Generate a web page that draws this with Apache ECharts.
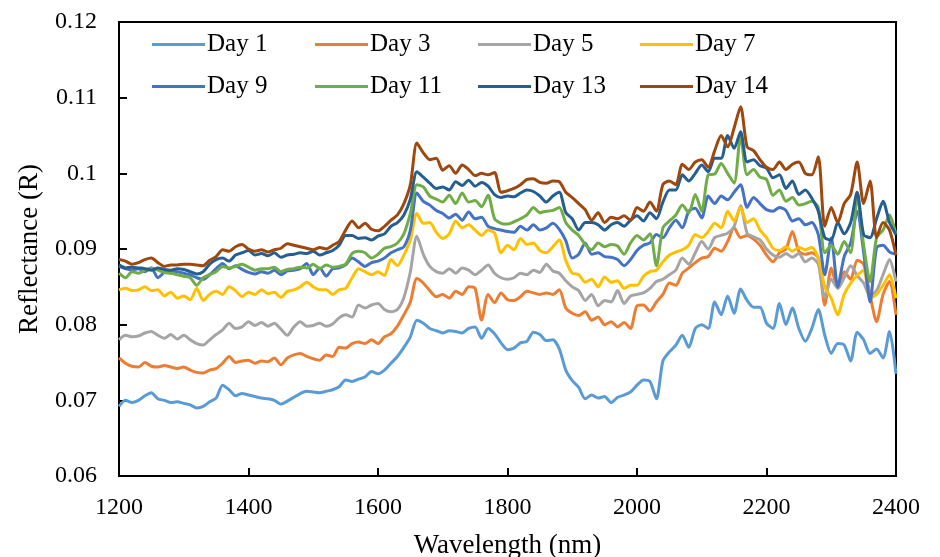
<!DOCTYPE html>
<html>
<head>
<meta charset="utf-8">
<script src="https://cdn.jsdelivr.net/npm/echarts@6/dist/echarts.min.js"></script>
<style>
html,body{margin:0;padding:0;background:#fff;}
#chart{width:940px;height:557px;}
</style>
</head>
<body>
<div id="chart"></div>
<script>
// Wavelength sampling grid (nm): 1200 to 2400 every 10 nm
const wlStart = 1200, wlStep = 10;
const seriesNames = ['Day 1','Day 3','Day 5','Day 7','Day 9','Day 11','Day 13','Day 14'];
const yTickLabels = ['0.06','0.07','0.08','0.09','0.1','0.11','0.12'];
const xTickLabels = ['1200','1400','1600','1800','2000','2200','2400'];

const day1 = [0.0692,0.0700,0.0697,0.0700,0.0706,0.0710,0.0702,0.0700,0.0697,0.0698,
0.0696,0.0694,0.0690,0.0692,0.0698,0.0703,0.0720,0.0714,0.0706,0.0709,
0.0707,0.0705,0.0703,0.0702,0.0700,0.0695,0.0699,0.0704,0.0709,0.0712,
0.0711,0.0710,0.0712,0.0714,0.0718,0.0727,0.0725,0.0728,0.0731,0.0738,
0.0735,0.0740,0.0749,0.0758,0.0770,0.0784,0.0806,0.0802,0.0795,0.0792,
0.0789,0.0792,0.0791,0.0789,0.0795,0.0797,0.0782,0.0795,0.0788,0.0776,
0.0767,0.0769,0.0776,0.0778,0.0790,0.0787,0.0779,0.0780,0.0768,0.0740,
0.0726,0.0717,0.0702,0.0707,0.0703,0.0705,0.0697,0.0704,0.0707,0.0711,
0.0720,0.0727,0.0725,0.0702,0.0752,0.0764,0.0773,0.0786,0.0770,0.0795,
0.0800,0.0795,0.0830,0.0813,0.0838,0.0815,0.0847,0.0832,0.0823,0.0823,
0.0802,0.0795,0.0828,0.0800,0.0822,0.0795,0.0778,0.0795,0.0820,0.0786,
0.0762,0.0775,0.0773,0.0752,0.0790,0.0780,0.0762,0.0768,0.0756,0.0791,
0.0735];

const day3 = [0.0756,0.0749,0.0745,0.0744,0.0750,0.0745,0.0744,0.0746,0.0744,0.0742,
0.0744,0.0740,0.0737,0.0736,0.0740,0.0742,0.0749,0.0758,0.0750,0.0752,
0.0753,0.0749,0.0752,0.0751,0.0756,0.0747,0.0756,0.0760,0.0762,0.0758,
0.0755,0.0753,0.0760,0.0758,0.0770,0.0769,0.0775,0.0777,0.0775,0.0780,
0.0775,0.0784,0.0788,0.0798,0.0813,0.0830,0.0861,0.0855,0.0845,0.0837,
0.0840,0.0835,0.0844,0.0840,0.0850,0.0848,0.0806,0.0840,0.0829,0.0842,
0.0833,0.0832,0.0837,0.0844,0.0842,0.0840,0.0842,0.0840,0.0846,0.0822,
0.0815,0.0812,0.0817,0.0806,0.0810,0.0800,0.0804,0.0797,0.0803,0.0795,
0.0825,0.0826,0.0818,0.0830,0.0840,0.0855,0.0852,0.0868,0.0875,0.0882,
0.0888,0.0890,0.0901,0.0897,0.0910,0.0928,0.0915,0.0918,0.0913,0.0905,
0.0892,0.0883,0.0895,0.0900,0.0923,0.0897,0.0893,0.0895,0.0888,0.0826,
0.0875,0.0848,0.0870,0.0860,0.0885,0.0880,0.0839,0.0804,0.0840,0.0857,
0.0813];

const day5 = [0.0780,0.0786,0.0784,0.0785,0.0789,0.0791,0.0786,0.0782,0.0787,0.0781,
0.0786,0.0780,0.0775,0.0773,0.0780,0.0787,0.0793,0.0802,0.0795,0.0797,
0.0804,0.0799,0.0803,0.0798,0.0802,0.0794,0.0786,0.0797,0.0804,0.0798,
0.0799,0.0802,0.0798,0.0801,0.0809,0.0813,0.0810,0.0826,0.0822,0.0826,
0.0828,0.0820,0.0817,0.0820,0.0836,0.0870,0.0917,0.0893,0.0877,0.0870,
0.0868,0.0874,0.0868,0.0875,0.0872,0.0866,0.0872,0.0879,0.0868,0.0862,
0.0860,0.0862,0.0868,0.0866,0.0872,0.0869,0.0880,0.0871,0.0868,0.0858,
0.0850,0.0845,0.0832,0.0840,0.0825,0.0832,0.0830,0.0845,0.0828,0.0838,
0.0840,0.0842,0.0848,0.0857,0.0860,0.0866,0.0872,0.0888,0.0880,0.0895,
0.0910,0.0900,0.0915,0.0918,0.0921,0.0930,0.0957,0.0921,0.0916,0.0912,
0.0900,0.0892,0.0889,0.0894,0.0889,0.0894,0.0883,0.0888,0.0880,0.0836,
0.0860,0.0848,0.0862,0.0878,0.0865,0.0855,0.0838,0.0845,0.0866,0.0886,
0.0857];

const day7 = [0.0846,0.0848,0.0845,0.0846,0.0850,0.0845,0.0846,0.0838,0.0843,0.0835,
0.0838,0.0833,0.0848,0.0832,0.0840,0.0844,0.0840,0.0850,0.0845,0.0837,
0.0843,0.0840,0.0846,0.0841,0.0843,0.0836,0.0844,0.0846,0.0850,0.0856,
0.0850,0.0846,0.0846,0.0840,0.0846,0.0848,0.0862,0.0874,0.0870,0.0866,
0.0870,0.0865,0.0886,0.0878,0.0892,0.0912,0.0947,0.0934,0.0935,0.0922,
0.0914,0.0920,0.0937,0.0928,0.0932,0.0925,0.0918,0.0925,0.0921,0.0895,
0.0905,0.0899,0.0914,0.0906,0.0908,0.0898,0.0895,0.0903,0.0912,0.0885,
0.0868,0.0866,0.0856,0.0860,0.0850,0.0863,0.0856,0.0858,0.0848,0.0852,
0.0852,0.0864,0.0870,0.0872,0.0883,0.0892,0.0896,0.0899,0.0905,0.0919,
0.0915,0.0923,0.0934,0.0928,0.0950,0.0937,0.0955,0.0935,0.0940,0.0925,
0.0915,0.0901,0.0898,0.0903,0.0897,0.0902,0.0899,0.0902,0.0888,0.0850,
0.0835,0.0813,0.0840,0.0855,0.0865,0.0872,0.0835,0.0840,0.0852,0.0866,
0.0835];

const day9 = [0.0877,0.0874,0.0872,0.0874,0.0870,0.0875,0.0862,0.0869,0.0871,0.0870,
0.0868,0.0866,0.0862,0.0860,0.0866,0.0874,0.0881,0.0874,0.0878,0.0873,
0.0869,0.0867,0.0870,0.0868,0.0872,0.0866,0.0871,0.0872,0.0874,0.0881,
0.0866,0.0875,0.0864,0.0874,0.0875,0.0879,0.0888,0.0883,0.0877,0.0882,
0.0884,0.0888,0.0895,0.0899,0.0903,0.0925,0.0974,0.0963,0.0958,0.0951,
0.0947,0.0941,0.0946,0.0938,0.0949,0.0940,0.0942,0.0930,0.0927,0.0925,
0.0923,0.0922,0.0930,0.0925,0.0932,0.0925,0.0928,0.0934,0.0926,0.0911,
0.0888,0.0893,0.0908,0.0893,0.0895,0.0890,0.0889,0.0886,0.0878,0.0886,
0.0898,0.0905,0.0908,0.0919,0.0915,0.0928,0.0938,0.0928,0.0950,0.0954,
0.0941,0.0970,0.0960,0.0970,0.0965,0.0975,0.0985,0.0955,0.0968,0.0960,
0.0952,0.0950,0.0955,0.0951,0.0937,0.0940,0.0932,0.0935,0.0919,0.0866,
0.0915,0.0850,0.0890,0.0908,0.0950,0.0896,0.0830,0.0902,0.0905,0.0896,
0.0893];

const day11 = [0.0868,0.0862,0.0870,0.0868,0.0872,0.0875,0.0872,0.0869,0.0868,0.0866,
0.0864,0.0862,0.0852,0.0862,0.0866,0.0870,0.0877,0.0875,0.0877,0.0880,
0.0876,0.0872,0.0874,0.0874,0.0876,0.0870,0.0873,0.0874,0.0876,0.0875,
0.0880,0.0874,0.0879,0.0876,0.0877,0.0880,0.0894,0.0897,0.0895,0.0888,
0.0893,0.0901,0.0903,0.0908,0.0920,0.0947,0.0985,0.0982,0.0970,0.0966,
0.0962,0.0971,0.0960,0.0974,0.0962,0.0964,0.0956,0.0971,0.0940,0.0934,
0.0933,0.0936,0.0940,0.0945,0.0955,0.0948,0.0950,0.0951,0.0955,0.0935,
0.0925,0.0918,0.0906,0.0899,0.0908,0.0903,0.0906,0.0904,0.0893,0.0908,
0.0918,0.0912,0.0920,0.0878,0.0928,0.0937,0.0945,0.0958,0.0948,0.0972,
0.0950,0.0998,0.0999,0.1013,0.1000,0.0987,0.1050,0.0998,0.1005,0.0995,
0.0992,0.0971,0.0978,0.0963,0.0968,0.0958,0.0960,0.0963,0.0955,0.0895,
0.0905,0.0893,0.0910,0.0895,0.0970,0.0905,0.0857,0.0915,0.0925,0.0945,
0.0919];

const day13 = [0.0879,0.0875,0.0876,0.0875,0.0874,0.0872,0.0875,0.0873,0.0872,0.0874,
0.0873,0.0870,0.0867,0.0870,0.0880,0.0886,0.0888,0.0884,0.0892,0.0895,
0.0898,0.0892,0.0894,0.0891,0.0895,0.0889,0.0892,0.0893,0.0895,0.0894,
0.0897,0.0892,0.0895,0.0898,0.0905,0.0918,0.0918,0.0914,0.0915,0.0912,
0.0917,0.0920,0.0930,0.0935,0.0945,0.0966,0.1002,0.0995,0.0987,0.0980,
0.0982,0.0978,0.0989,0.0984,0.0991,0.0983,0.0988,0.0983,0.0972,0.0968,
0.0970,0.0969,0.0974,0.0978,0.0976,0.0970,0.0962,0.0970,0.0975,0.0948,
0.0940,0.0925,0.0935,0.0935,0.0932,0.0925,0.0932,0.0935,0.0930,0.0938,
0.0944,0.0937,0.0948,0.0940,0.0962,0.0978,0.0978,0.0998,0.0990,0.1000,
0.1011,0.1002,0.1020,0.1020,0.1050,0.1033,0.1055,0.1015,0.1018,0.1010,
0.1007,0.0994,0.0998,0.0980,0.0990,0.0972,0.0978,0.0967,0.0950,0.0915,
0.0912,0.0935,0.0920,0.0935,0.0975,0.0919,0.0915,0.0940,0.0963,0.0935,
0.0919];

const day14 = [0.0886,0.0884,0.0880,0.0882,0.0886,0.0888,0.0882,0.0877,0.0879,0.0879,
0.0880,0.0880,0.0879,0.0878,0.0885,0.0890,0.0899,0.0897,0.0903,0.0906,
0.0900,0.0897,0.0899,0.0896,0.0899,0.0901,0.0907,0.0905,0.0903,0.0901,
0.0899,0.0902,0.0900,0.0905,0.0910,0.0925,0.0937,0.0928,0.0934,0.0926,
0.0924,0.0930,0.0938,0.0945,0.0960,0.0985,0.1040,0.1027,0.1018,0.1020,
0.1004,0.1010,0.1000,0.1011,0.1005,0.0997,0.1000,0.0998,0.1001,0.0975,
0.0977,0.0980,0.0985,0.0992,0.0993,0.0988,0.0987,0.0990,0.0989,0.0975,
0.0968,0.0960,0.0952,0.0938,0.0948,0.0935,0.0942,0.0940,0.0944,0.0938,
0.0955,0.0950,0.0962,0.0950,0.0985,0.0990,0.0985,0.1012,0.1005,0.1015,
0.1018,0.1008,0.1030,0.1050,0.1035,0.1060,0.1088,0.1035,0.1030,0.1018,
0.1008,0.1005,0.1015,0.1005,0.1012,0.1015,0.1000,0.0998,0.1022,0.0930,
0.0955,0.0935,0.0960,0.0972,0.1015,0.0960,0.0990,0.0915,0.0935,0.0925,
0.0892];

const seriesData = [day1, day3, day5, day7, day9, day11, day13, day14];
const colors = ['#5B9BD5','#ED7D31','#A5A5A5','#FFC000','#4472C4','#70AD47','#255E91','#9E480E'];
const FONT = '"Times New Roman","Liberation Serif",serif';

const chart = echarts.init(document.getElementById('chart'), null, {renderer:'canvas'});

const series = seriesNames.map((name, i) => ({
  name: name,
  type: 'line',
  data: seriesData[i].map((v, k) => [wlStart + k * wlStep, v]),
  symbol: 'none',
  smooth: 0.25,
  lineStyle: { width: 3, color: colors[i], join: 'round' },
  itemStyle: { color: colors[i] },
  emphasis: { disabled: true },
  animation: false
}));

const legendCols = [[0,4],[1,5],[2,6],[3,7]];
const legendLeft = [152, 315, 478, 640];
const legends = legendCols.map((idx, c) => ({
  orient: 'vertical',
  left: legendLeft[c],
  top: 32,
  icon: 'rect',
  itemWidth: 53,
  itemHeight: 3,
  itemGap: 17,
  padding: 0,
  data: idx.map(j => seriesNames[j]),
  textStyle: { fontFamily: FONT, fontSize: 25, color: '#000', padding: [0,0,0,-3] }
}));

chart.setOption({
  backgroundColor: '#fff',
  animation: false,
  color: colors,
  legend: legends,
  grid: { left: 119, right: 44, top: 22, bottom: 81, show: true, borderColor: '#000', borderWidth: 2,
          containLabel: false, outerBoundsMode: 'none' },
  xAxis: {
    type: 'value', min: 1200, max: 2400, interval: 200,
    name: 'Wavelength (nm)', nameLocation: 'middle', nameGap: 56,
    nameTextStyle: { fontFamily: FONT, fontSize: 27, color: '#000' },
    axisLine: { lineStyle: { color: '#000', width: 2 } },
    axisTick: { inside: true, length: 8, lineStyle: { color: '#000', width: 2 } },
    axisLabel: { fontFamily: FONT, fontSize: 24, color: '#000', margin: 20,
      formatter: (v) => { const i = xTickLabels.indexOf(String(v)); return i >= 0 ? xTickLabels[i] : ''; } },
    splitLine: { show: false }
  },
  yAxis: {
    type: 'value', min: 0.06, max: 0.12, interval: 0.01,
    name: 'Reflectance (R)', nameLocation: 'middle', nameGap: 76, nameRotate: 90,
    nameTextStyle: { fontFamily: FONT, fontSize: 27, color: '#000' },
    axisLine: { lineStyle: { color: '#000', width: 2 } },
    axisTick: { inside: true, length: 8, lineStyle: { color: '#000', width: 2 } },
    axisLabel: { fontFamily: FONT, fontSize: 24, color: '#000', margin: 22,
      formatter: (v) => { const i = Math.round((v - 0.06) / 0.01); return yTickLabels[i] !== undefined ? yTickLabels[i] : ''; } },
    splitLine: { show: false }
  },
  series: series
});
</script>
</body>
</html>
